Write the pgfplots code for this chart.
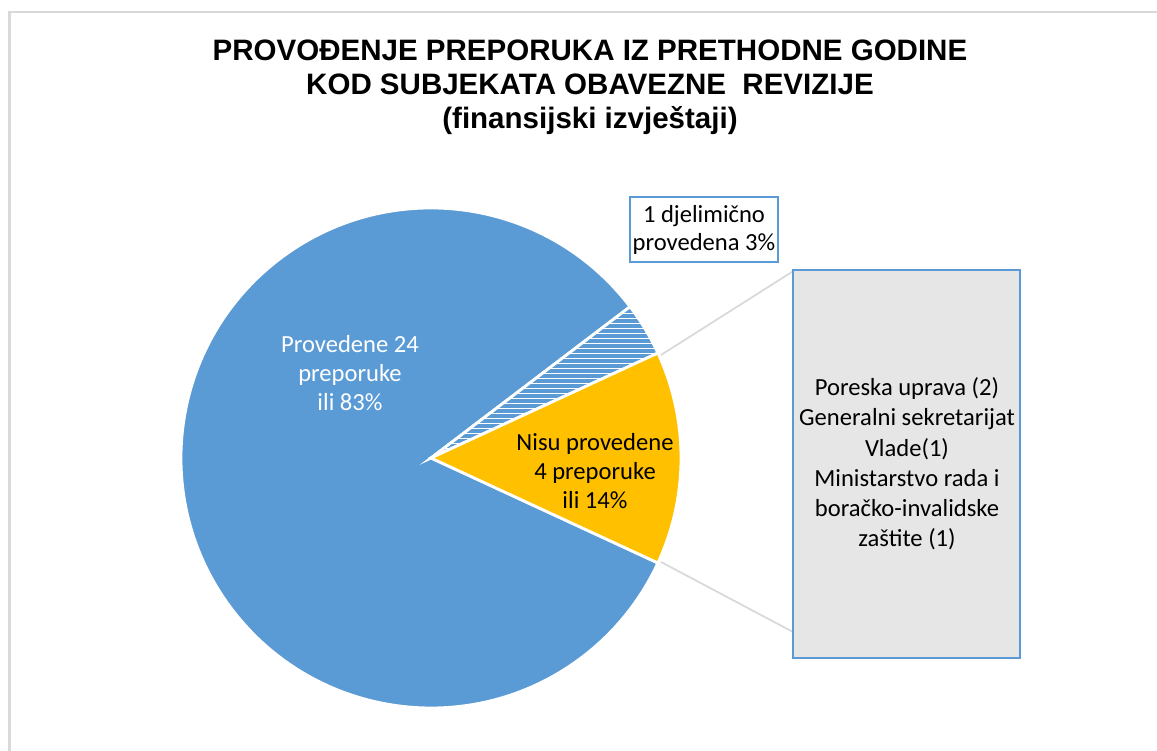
\documentclass[border=0pt]{standalone}
\usepackage{pgfplots}
\pgfplotsset{compat=1.18}
\usepackage{pgfplotstable}
\usepackage{fontspec}
\setmainfont{Carlito}
\newfontfamily\arialfont{Liberation Sans}
\definecolor{pieblue}{HTML}{5B9BD5}
\definecolor{pieyellow}{HTML}{FFC000}
\definecolor{boxgray}{HTML}{E6E6E6}
\definecolor{linegray}{HTML}{D9D9D9}
\pgfplotstableread{
label value
Provedene 24
Djelimicno 1
Nisu 4
}\piedata
\begin{document}
\begin{tikzpicture}
\pgfplotstablegetelem{0}{value}\of\piedata \edef\vA{\pgfplotsretval}
\pgfplotstablegetelem{1}{value}\of\piedata \edef\vB{\pgfplotsretval}
\pgfplotstablegetelem{2}{value}\of\piedata \edef\vC{\pgfplotsretval}
\pgfmathsetmacro{\tot}{\vA+\vB+\vC}
\pgfmathsetmacro{\aY}{\vC/\tot*180}
\pgfmathsetmacro{\aYn}{-\aY}
\pgfmathsetmacro{\aH}{\aY+\vB/\tot*360}
\pgfmathsetmacro{\aE}{360-\aY}
\begin{axis}[width=11.57cm,height=7.51cm,scale only axis,at={(0,0)},anchor=south west,
  xmin=0,xmax=1157,ymin=0,ymax=751,axis lines=none,clip=false]
% outer frame
\draw[linegray, line width=0.6pt] (axis cs:9.5,0) -- (axis cs:9.5,739) -- (axis cs:1157,739);
% pie slices
\path[fill=pieblue, draw=white, line width=0.8pt] (axis cs:431,293) -- ++(\aH:2.5cm) arc[start angle=\aH, end angle=\aE, radius=2.5cm] -- cycle;
\begin{scope}
\clip (axis cs:431,293) -- ++(\aY:2.5cm) arc[start angle=\aY, end angle=\aH, radius=2.5cm] -- cycle;
\pgfplotsinvokeforeach{295,300,...,450}{\draw[pieblue, line width=0.9pt] (axis cs:420,#1) -- (axis cs:700,#1);}
\end{scope}
\path[draw=white, line width=0.8pt] (axis cs:431,293) -- ++(\aY:2.5cm) arc[start angle=\aY, end angle=\aH, radius=2.5cm] -- cycle;
\path[fill=pieyellow, draw=white, line width=0.8pt] (axis cs:431,293) -- ++(\aYn:2.5cm) arc[start angle=\aYn, end angle=\aY, radius=2.5cm] -- cycle;
% connectors
\draw[linegray, line width=0.5pt] (axis cs:661,396) -- (axis cs:795,481);
\draw[linegray, line width=0.5pt] (axis cs:661,189) -- (axis cs:793,119);
% bar box
\draw[pieblue, fill=boxgray, line width=0.45pt] (axis cs:793,481) rectangle (axis cs:1020,93);
\node[align=center, font=\fontsize{7}{8.6}\selectfont] at (axis cs:907,287)
  {Poreska uprava (2)\\Generalni sekretarijat\\Vlade(1)\\Ministarstvo rada i\\bora\v{c}ko-invalidske\\za\v{s}tite (1)};
% label box
\draw[pieblue, fill=white, line width=0.45pt] (axis cs:630,554) rectangle (axis cs:778,489);
\node[align=center, font=\fontsize{7}{8}\selectfont] at (axis cs:704,521)
  {1 djelimi\v{c}no\\provedena 3\%};
% data labels
\node[align=center, text=white, font=\fontsize{7}{8.2}\selectfont] at (axis cs:350,378)
  {Provedene 24\\preporuke\\ili 83\%};
\node[align=center, font=\fontsize{7}{8.2}\selectfont] at (axis cs:595,280)
  {Nisu provedene\\4 preporuke\\ili 14\%};
% title
\node[align=center, font=\arialfont\bfseries\fontsize{8.4}{9.7}\selectfont] at (axis cs:590,664)
  {PROVO\DJ ENJE PREPORUKA IZ PRETHODNE GODINE\\KOD SUBJEKATA OBAVEZNE\ \ REVIZIJE\\(finansijski izvje\v{s}taji)};
\end{axis}
\pgfresetboundingbox
\path (0,0) rectangle (11.57cm,7.51cm);
\end{tikzpicture}
\end{document}
